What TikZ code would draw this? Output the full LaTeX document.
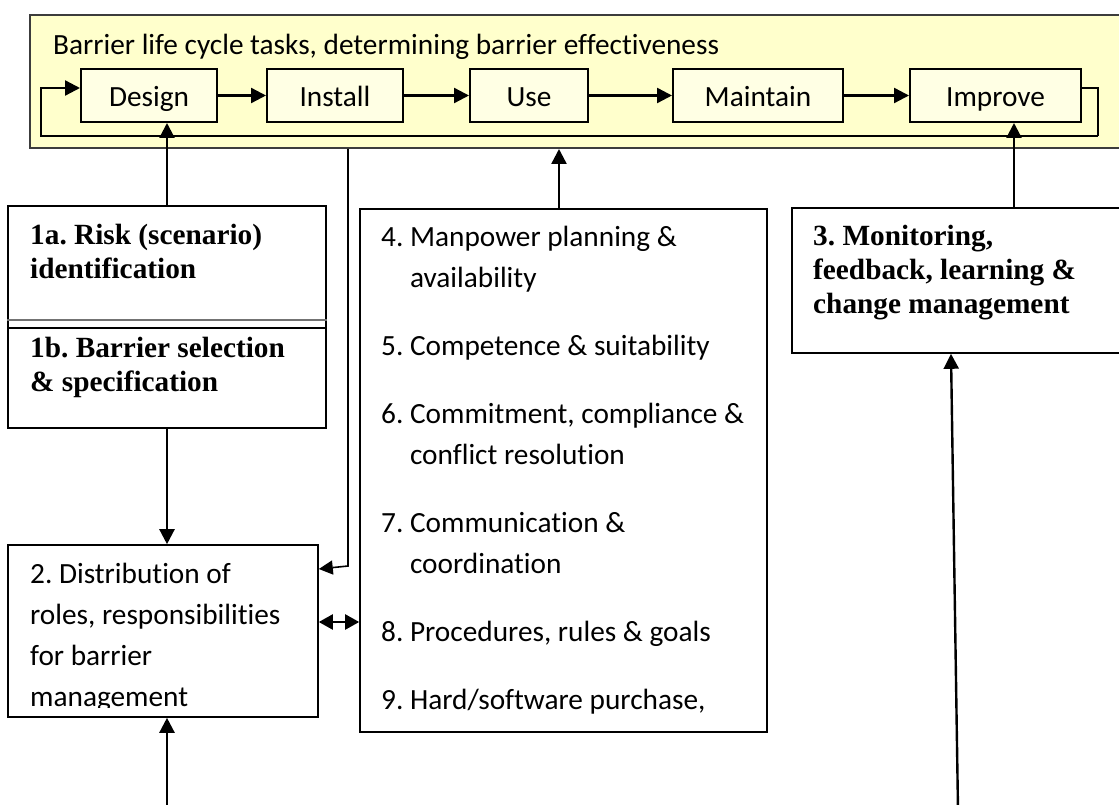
\documentclass[tikz,border=0pt]{standalone}
\usepackage{fontspec}
\setmainfont{Carlito}[Ligatures=NoCommon]
\newfontfamily\timesfont{Liberation Serif}
\usetikzlibrary{arrows.meta}
\definecolor{cyclefill}{RGB}{255,255,204}
\definecolor{taskfill}{RGB}{255,255,228}
\definecolor{cycleframe}{RGB}{60,60,60}
\newcommand\calfont{\fontsize{29.3}{41}\selectfont}
\newcommand\romfont{\timesfont\bfseries\fontsize{29.3}{34}\selectfont}
\frenchspacing

\begin{document}
\begin{tikzpicture}[x=1pt,y=-1pt,
  task/.style={draw=black, line width=2pt, fill=taskfill, inner sep=0pt,
    minimum height=53pt, text height=23pt, text depth=0pt, font=\calfont},
  panel/.style={draw=black, line width=1.6pt, inner sep=0pt},
  txt/.style={anchor=base west, inner sep=0pt},
  flow/.style={line width=2.4pt, -{Triangle[length=15pt,width=15pt]}},
  link/.style={line width=1.6pt},
  tip/.style={-{Triangle[length=14pt,width=14pt]}},
  bothtips/.style={{Triangle[length=14pt,width=15pt]}-{Triangle[length=14pt,width=15pt]}}
]
\useasboundingbox (0,0) rectangle (1119,805);
\fill[white] (0,0) rectangle (1119,805);
\clip (0,0) rectangle (1119,805);

% life cycle band
\node[draw=cycleframe, line width=2pt, fill=cyclefill, inner sep=0pt,
      minimum width=1110pt, minimum height=133pt] (cycle) at (585,81.5) {};
\node[txt, font=\calfont] (title) at (53,55)
  {Barrier life cycle tasks, determining barrier effectiveness};
\node[task, minimum width=136pt] (design)   at (149,95.5)   {Design};
\node[task, minimum width=136pt] (install)  at (335,95.5)   {Install};
\node[task, minimum width=118pt] (use)      at (529,95.5)   {Use};
\node[task, minimum width=170pt] (maintain) at (758,95.5)   {Maintain};
\node[task, minimum width=171pt] (improve)  at (995.5,95.5) {Improve};

\draw[flow] (design) -- (install);
\draw[flow] (install) -- (use);
\draw[flow] (use) -- (maintain);
\draw[flow] (maintain) -- (improve);

% feedback loop from Improve back to Design
\coordinate (loopR) at (1098,136);
\coordinate (loopL) at (41,136);
\draw[line width=1.4pt] ([yshift=7.5pt]improve.east) -| (loopR);
\draw[flow] (loopR) -- (loopL) |- ([yshift=7.5pt]design.west);

% box 1a / 1b
\node[panel, minimum width=318pt, minimum height=222pt] (riskbox) at (167,317) {};
\coordinate (sepA) at (0,320);
\coordinate (sepB) at (0,328);
\draw[black!55, line width=1.4pt] (riskbox.west |- sepA) -- (riskbox.east |- sepA);
\draw[line width=1.6pt] (riskbox.west |- sepB) -- (riskbox.east |- sepB);
\node[txt] (risktext) at (30,244)
  {\parbox[t]{300pt}{\romfont\raggedright 1a. Risk (scenario)\\identification}};
\node[txt] (selecttext) at (30,357)
  {\parbox[t]{300pt}{\romfont\raggedright 1b. Barrier selection\\\& specification}};

% box 3
\node[panel, minimum width=444pt, minimum height=145pt] (monitor) at (1014,280.5) {};
\node[txt] (monitortext) at (813,245)
  {\parbox[t]{300pt}{\romfont\raggedright 3. Monitoring,\\feedback, learning \&\\change management}};

% box 4-9
\node[panel, minimum width=407pt, minimum height=523pt] (factors) at (563.5,470.5) {};
\node[txt] (factortext) at (381,246.7)
  {\parbox[t]{390pt}{\calfont\raggedright
    4. Manpower planning \&\\
    \phantom{4.\ }availability\\[27pt]
    5. Competence \& suitability\\[27pt]
    6. Commitment, compliance \&\\
    \phantom{6.\ }conflict resolution\\[27pt]
    7. Communication \&\\
    \phantom{7.\ }coordination\\[27pt]
    8. Procedures, rules \& goals\\[27pt]
    9. Hard/software purchase,}};

% box 2
\node[panel, minimum width=310pt, minimum height=172pt] (roles) at (163,631) {};
\begin{scope}
  \clip (0,0) rectangle (318,707);
  \node[txt] (rolestext) at (30,583)
    {\parbox[t]{300pt}{\calfont\raggedright
      2. Distribution of\\roles, responsibilities\\for barrier\\management}};
\end{scope}

% connectors
\draw[flow] (riskbox.north) -- (riskbox.north |- design.south);
\draw[flow] ([xshift=-4.5pt]factors.north) -- ([xshift=-4.5pt]factors.north |- cycle.south);
\draw[flow] (monitor.north) -- (monitor.north |- improve.south);
\draw[flow] (riskbox.south) -- (riskbox.south |- roles.north);

\coordinate (src2) at (167,810);
\coordinate (src3) at (958,810);
\draw[flow] (src2) -- (src2 |- roles.south);
\draw[flow] (src3) -- ([xshift=-63pt]monitor.south);

\coordinate (drop) at (348,566);
\coordinate (dropLevel) at (0,569);
\draw[link, tip] (cycle.south -| drop) -- (drop) -- (roles.east |- dropLevel);

\coordinate (pairLevel) at (0,622);
\draw[link, line width=2.2pt, bothtips] (roles.east |- pairLevel) -- (factors.west |- pairLevel);
\end{tikzpicture}
\end{document}
